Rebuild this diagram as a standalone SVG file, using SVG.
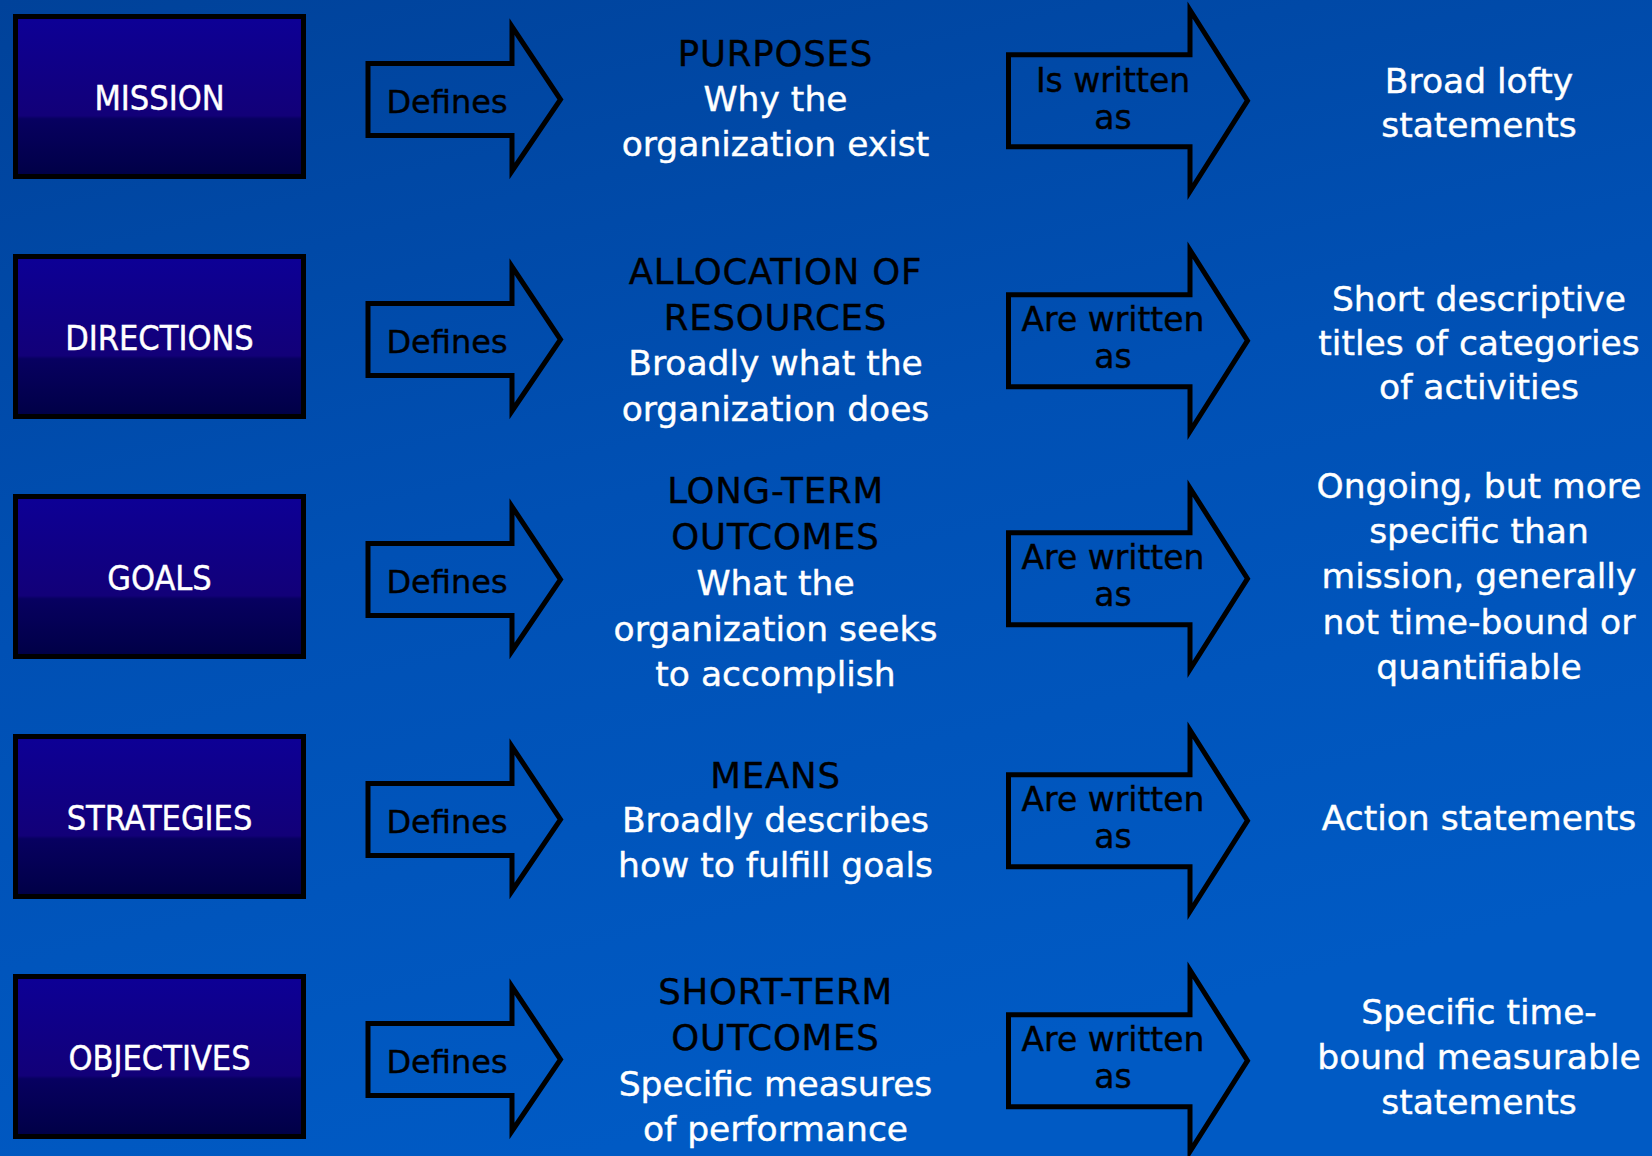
<svg xmlns="http://www.w3.org/2000/svg" width="1652" height="1156" viewBox="0 0 1652 1156">
<defs>
<linearGradient id="bg" x1="0" y1="0" x2="0.35" y2="1">
<stop offset="0" stop-color="#00429a"/>
<stop offset="0.5" stop-color="#0050b4"/>
<stop offset="1" stop-color="#005ac4"/>
</linearGradient>
<linearGradient id="boxfill" x1="0" y1="0" x2="0" y2="1">
<stop offset="0" stop-color="#0d0096"/>
<stop offset="0.62" stop-color="#120078"/>
<stop offset="0.64" stop-color="#070060"/>
<stop offset="1" stop-color="#000046"/>
</linearGradient>
<polygon id="defArrow" points="368,63.5 512,63.5 512,26.5 560.5,99.5 512,171 512,135.5 368,135.5"/>
<polygon id="wrArrow" points="1008.5,54.8 1190,54.8 1190,10 1247.5,100.7 1190,191.5 1190,146.8 1008.5,146.8"/>
<rect id="boxShape" x="15.5" y="16.5" width="288" height="160"/>
</defs>
<style>
.box{fill:url(#boxfill);stroke:#000;stroke-width:5}
.arr{fill:none;stroke:#000;stroke-width:5;stroke-linejoin:miter;stroke-miterlimit:6}
.lbl{font-family:"DejaVu Sans Condensed","DejaVu Sans",sans-serif;font-stretch:condensed;font-size:34px;fill:#fff;stroke:#fff;stroke-width:0.4;text-anchor:middle}
.at{font-family:"DejaVu Sans",sans-serif;font-size:33px;fill:#000;stroke:#000;stroke-width:0.4;text-anchor:middle}
.mid{font-family:"DejaVu Sans",sans-serif;font-size:34.5px;text-anchor:middle;stroke-width:0.4}
.h{fill:#000;stroke:#000;font-size:35.5px;letter-spacing:0.8px}
.w{fill:#fff;stroke:#fff}
</style>
<rect x="0" y="0" width="1652" height="1156" fill="url(#bg)"/>

<g id="connectors">
<g id="arrow-defines-1"><use href="#defArrow" class="arr"/><text class="at" x="447" y="112.7" style="font-size:32px">Defines</text></g>
<g id="arrow-defines-2" transform="translate(0,240)"><use href="#defArrow" class="arr"/><text class="at" x="447" y="112.7" style="font-size:32px">Defines</text></g>
<g id="arrow-defines-3" transform="translate(0,480)"><use href="#defArrow" class="arr"/><text class="at" x="447" y="112.7" style="font-size:32px">Defines</text></g>
<g id="arrow-defines-4" transform="translate(0,720)"><use href="#defArrow" class="arr"/><text class="at" x="447" y="112.7" style="font-size:32px">Defines</text></g>
<g id="arrow-defines-5" transform="translate(0,960)"><use href="#defArrow" class="arr"/><text class="at" x="447" y="112.7" style="font-size:32px">Defines</text></g>

<g id="arrow-written-1"><use href="#wrArrow" class="arr"/><text class="at" x="1113" y="92"><tspan x="1113">Is written</tspan><tspan x="1113" y="128.5">as</tspan></text></g>
<g id="arrow-written-2" transform="translate(0,240)"><use href="#wrArrow" class="arr"/><text class="at" x="1113" y="91"><tspan x="1113">Are written</tspan><tspan x="1113" y="128">as</tspan></text></g>
<g id="arrow-written-3" transform="translate(0,478)"><use href="#wrArrow" class="arr"/><text class="at" x="1113" y="91"><tspan x="1113">Are written</tspan><tspan x="1113" y="128">as</tspan></text></g>
<g id="arrow-written-4" transform="translate(0,720)"><use href="#wrArrow" class="arr"/><text class="at" x="1113" y="91"><tspan x="1113">Are written</tspan><tspan x="1113" y="128">as</tspan></text></g>
<g id="arrow-written-5" transform="translate(0,960)"><use href="#wrArrow" class="arr"/><text class="at" x="1113" y="91"><tspan x="1113">Are written</tspan><tspan x="1113" y="128">as</tspan></text></g>
</g>

<g id="node-mission"><use href="#boxShape" class="box"/><text class="lbl" x="159.5" y="110">MISSION</text></g>
<g id="node-directions" transform="translate(0,240)"><use href="#boxShape" class="box"/><text class="lbl" x="159.5" y="110">DIRECTIONS</text></g>
<g id="node-goals" transform="translate(0,480)"><use href="#boxShape" class="box"/><text class="lbl" x="159.5" y="110">GOALS</text></g>
<g id="node-strategies" transform="translate(0,720)"><use href="#boxShape" class="box"/><text class="lbl" x="159.5" y="110">STRATEGIES</text></g>
<g id="node-objectives" transform="translate(0,960)"><use href="#boxShape" class="box"/><text class="lbl" x="159.5" y="110">OBJECTIVES</text></g>

<g id="node-purposes">
<text class="mid h" x="775.5" y="66">PURPOSES</text>
<text class="mid w" x="775.5" y="111">Why the</text>
<text class="mid w" x="775.5" y="156">organization exist</text>
</g>
<g id="node-allocation">
<text class="mid h" x="775.5" y="284">ALLOCATION OF</text>
<text class="mid h" x="775.5" y="329.5">RESOURCES</text>
<text class="mid w" x="775.5" y="375">Broadly what the</text>
<text class="mid w" x="775.5" y="420.5">organization does</text>
</g>
<g id="node-longterm">
<text class="mid h" x="775.5" y="503">LONG-TERM</text>
<text class="mid h" x="775.5" y="549">OUTCOMES</text>
<text class="mid w" x="775.5" y="595">What the</text>
<text class="mid w" x="775.5" y="640.5">organization seeks</text>
<text class="mid w" x="775.5" y="686">to accomplish</text>
</g>
<g id="node-means">
<text class="mid h" x="775.5" y="787.5">MEANS</text>
<text class="mid w" x="775.5" y="832">Broadly describes</text>
<text class="mid w" x="775.5" y="877">how to fulfill goals</text>
</g>
<g id="node-shortterm">
<text class="mid h" x="775.5" y="1004">SHORT-TERM</text>
<text class="mid h" x="775.5" y="1050">OUTCOMES</text>
<text class="mid w" x="775.5" y="1096">Specific measures</text>
<text class="mid w" x="775.5" y="1141">of performance</text>
</g>

<g id="node-broad">
<text class="mid w" x="1479" y="92.5">Broad lofty</text>
<text class="mid w" x="1479" y="137">statements</text>
</g>
<g id="node-short-descriptive">
<text class="mid w" x="1479" y="311">Short descriptive</text>
<text class="mid w" x="1479" y="354.5">titles of categories</text>
<text class="mid w" x="1479" y="398.5">of activities</text>
</g>
<g id="node-ongoing">
<text class="mid w" x="1479" y="497.5">Ongoing, but more</text>
<text class="mid w" x="1479" y="543">specific than</text>
<text class="mid w" x="1479" y="588">mission, generally</text>
<text class="mid w" x="1479" y="633.5">not time-bound or</text>
<text class="mid w" x="1479" y="678.5">quantifiable</text>
</g>
<g id="node-action">
<text class="mid w" x="1479" y="830">Action statements</text>
</g>
<g id="node-specific">
<text class="mid w" x="1479" y="1023.5">Specific time-</text>
<text class="mid w" x="1479" y="1069">bound measurable</text>
<text class="mid w" x="1479" y="1114">statements</text>
</g>
</svg>
